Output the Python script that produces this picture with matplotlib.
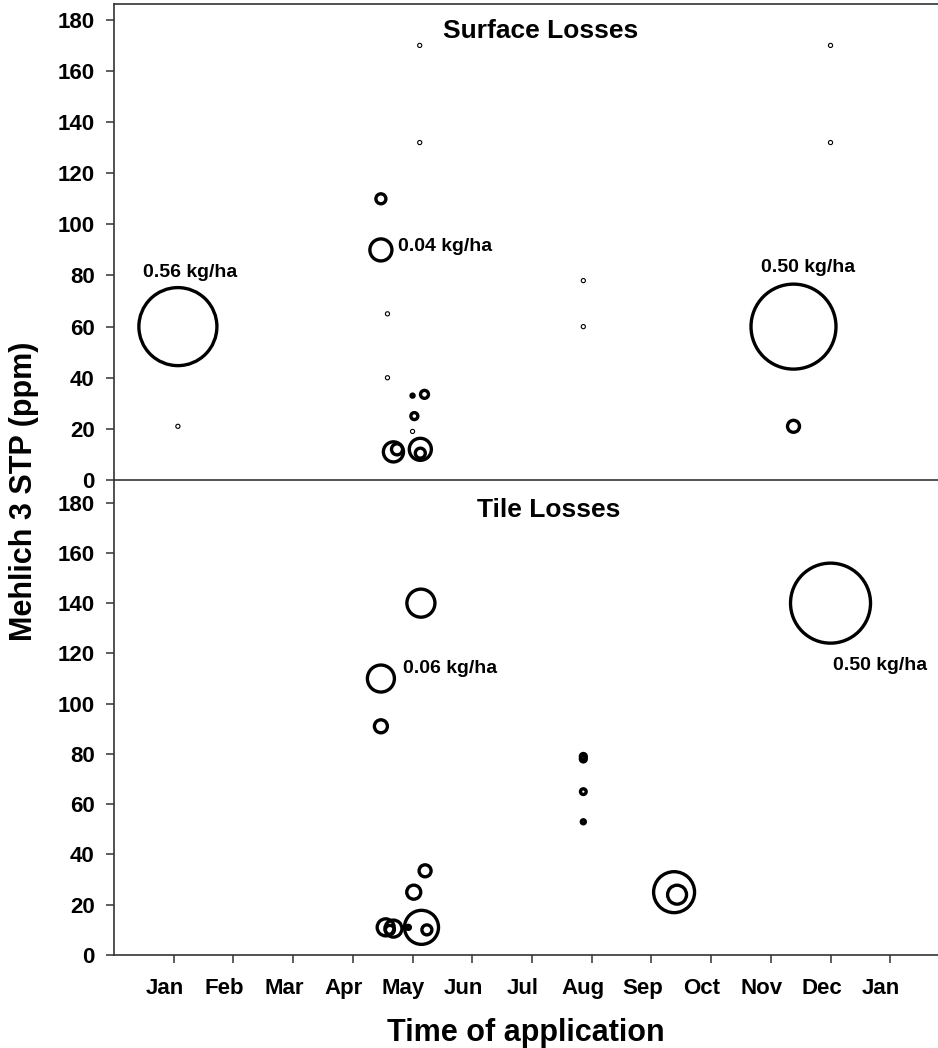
import matplotlib.pyplot as plt
import matplotlib.transforms as mtransforms

plt.rcParams['font.family'] = ['Liberation Sans', 'DejaVu Sans']
plt.rcParams['font.weight'] = 'bold'
plt.rcParams['axes.labelweight'] = 'bold'

months = ['Jan', 'Feb', 'Mar', 'Apr', 'May', 'Jun', 'Jul',
          'Aug', 'Sep', 'Oct', 'Nov', 'Dec', 'Jan']
month_pos = list(range(1, 14))
stp_ticks = [0, 20, 40, 60, 80, 100, 120, 140, 160, 180]

# surface losses: time (month number), Mehlich 3 STP (ppm), P loss (kg/ha, 0 = none)
surf_month = [1.07, 1.07, 5.12, 5.12, 4.47, 4.47, 4.58, 4.58, 5.00, 5.20,
              5.03, 5.00, 4.68, 4.74, 5.13, 5.13, 7.86, 7.86, 12.0, 12.0,
              11.38, 11.38]
surf_stp = [60, 21, 170, 132, 110, 90, 65, 40, 33, 33.5,
            25, 19, 11, 12, 12, 10.5, 78, 60, 170, 132,
            60, 21]
surf_loss = [0.526, 0, 0, 0, 0.0086, 0.042, 0, 0, 0.0008, 0.0055,
             0.0042, 0, 0.035, 0.0105, 0.042, 0.0086, 0, 0, 0, 0,
             0.624, 0.0124]

# tile losses
tile_month = [5.14, 4.47, 4.47, 5.21, 5.02, 5.15, 5.24, 4.93, 4.55, 4.68,
              4.62, 7.86, 7.86, 7.86, 7.86, 9.38, 9.43, 12.0]
tile_stp = [140, 110, 91, 33.5, 25, 11, 10, 11, 11, 10.5,
            10, 79, 78, 65, 53, 25, 24, 140]
tile_loss = [0.068, 0.063, 0.0146, 0.0124, 0.017, 0.10, 0.0086, 0.0014, 0.025, 0.025,
             0.007, 0.003, 0.003, 0.0028, 0.0014, 0.145, 0.031, 0.553]

surf_notes = ['0.56 kg/ha', '0.04 kg/ha', '0.50 kg/ha']
tile_notes = ['0.06 kg/ha', '0.50 kg/ha']

fig = plt.figure(figsize=(9.38, 10.48), dpi=100)
ax1 = fig.add_axes([114 / 938, 1 - 480 / 1048, 824 / 938, 476 / 1048])
ax2 = fig.add_axes([114 / 938, 1 - 955 / 1048, 824 / 938, 475 / 1048])

spine_col = '#333333'


def draw_bubbles(ax, xs, ys, loss):
    for x, y, l in zip(xs, ys, loss):
        if l > 0:
            ax.scatter(x, y, s=l * 6000, facecolors='none', edgecolors='black',
                       linewidths=2.4, zorder=3)
        else:
            ax.scatter(x, y, s=9, facecolors='none', edgecolors='black',
                       linewidths=0.8, zorder=3)


draw_bubbles(ax1, surf_month, surf_stp, surf_loss)
draw_bubbles(ax2, tile_month, tile_stp, tile_loss)

for ax, top in [(ax1, 186.2), (ax2, 189.0)]:
    ax.set_xlim(0, 13.8)
    ax.set_ylim(0, top)
    ax.set_yticks(stp_ticks)
    ax.tick_params(axis='y', direction='out', length=6, width=1.1,
                   color=spine_col, labelsize=16, pad=8)
    ax.spines['right'].set_visible(False)
    for s in ['left', 'top', 'bottom']:
        ax.spines[s].set_color(spine_col)
        ax.spines[s].set_linewidth(1.2)
    ax.patch.set_visible(False)

ax1.set_xticks([])
ax2.spines['top'].set_visible(False)
ax2.set_xticks(month_pos)
ax2.set_xticklabels(months)
ax2.tick_params(axis='x', direction='out', length=6, width=1.1,
                color=spine_col, labelsize=16, pad=10.5)
shift = mtransforms.ScaledTranslation(-0.09, 0, fig.dpi_scale_trans)
for lab in ax2.get_xticklabels():
    lab.set_transform(lab.get_transform() + shift)

ax1.text(7.15, 173, 'Surface Losses', fontsize=19, ha='center', va='baseline')
ax2.text(7.28, 174.4, 'Tile Losses', fontsize=19, ha='center', va='baseline')

ax1.text(1.27, 79.5, surf_notes[0], fontsize=14, ha='center', va='baseline')
ax1.text(4.76, 89.7, surf_notes[1], fontsize=14, ha='left', va='baseline')
ax1.text(11.63, 81.5, surf_notes[2], fontsize=14, ha='center', va='baseline')
ax2.text(4.84, 112.3, tile_notes[0], fontsize=14, ha='left', va='baseline')
ax2.text(12.04, 113.4, tile_notes[1], fontsize=14, ha='left', va='baseline')

ax2.set_xlabel('Time of application', fontsize=22, fontweight='bold', labelpad=14)
fig.text(0.026, 0.531, 'Mehlich 3 STP (ppm)', fontsize=22, rotation=90,
         ha='center', va='center')

fig.savefig('out.png', dpi=100)
